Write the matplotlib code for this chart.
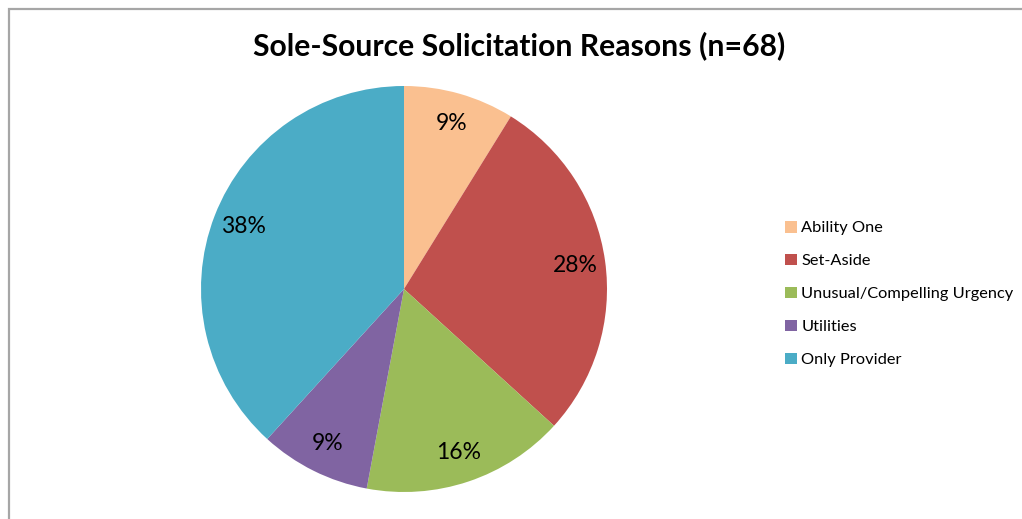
import matplotlib
matplotlib.use("Agg")
import matplotlib.pyplot as plt
from matplotlib.patches import Rectangle

# Sole-source solicitation reasons, n=68
labels = ['Ability One', 'Set-Aside', 'Unusual/Compelling Urgency', 'Utilities', 'Only Provider']
counts = [6, 19, 11, 6, 26]
colors = ['#FAC090', '#C0504D', '#9BBB59', '#8064A2', '#4BACC6']

plt.rcParams['font.family'] = ['Lato', 'DejaVu Sans']

fig = plt.figure(figsize=(10.22, 5.19), dpi=100)

# outer chart border (only top and left visible in the crop)
fig.patches.append(Rectangle((9 / 1022, -0.1), 1.2, 1.1 - 8.5 / 519,
                             transform=fig.transFigure, fill=False,
                             edgecolor='#A6A6A6', lw=1.6))

ax = fig.add_axes([(404 - 203) / 1022, (519 - 492) / 519, 406 / 1022, 406 / 519])
wedges, texts, autotexts = ax.pie(counts, colors=colors, startangle=90, counterclock=False,
                                  autopct='%.0f%%', pctdistance=0.85,
                                  wedgeprops=dict(linewidth=0),
                                  textprops=dict(fontsize=16.5, color='black'))
ax.set_xlim(-1, 1)
ax.set_ylim(-1, 1)
ax.set_aspect('equal')

fig.text(519 / 1022, 1 - 46 / 519, 'Sole-Source Solicitation Reasons (n=68)',
         ha='center', va='center', fontsize=21.7, fontweight='bold')

fig.legend(wedges, labels, loc='center left', bbox_to_anchor=(770 / 1022, 1 - 294 / 519),
           frameon=False, fontsize=11.8, handlelength=0.72, handleheight=0.72,
           handletextpad=0.3, labelspacing=1.12)

fig.savefig('out.png', dpi=100)
